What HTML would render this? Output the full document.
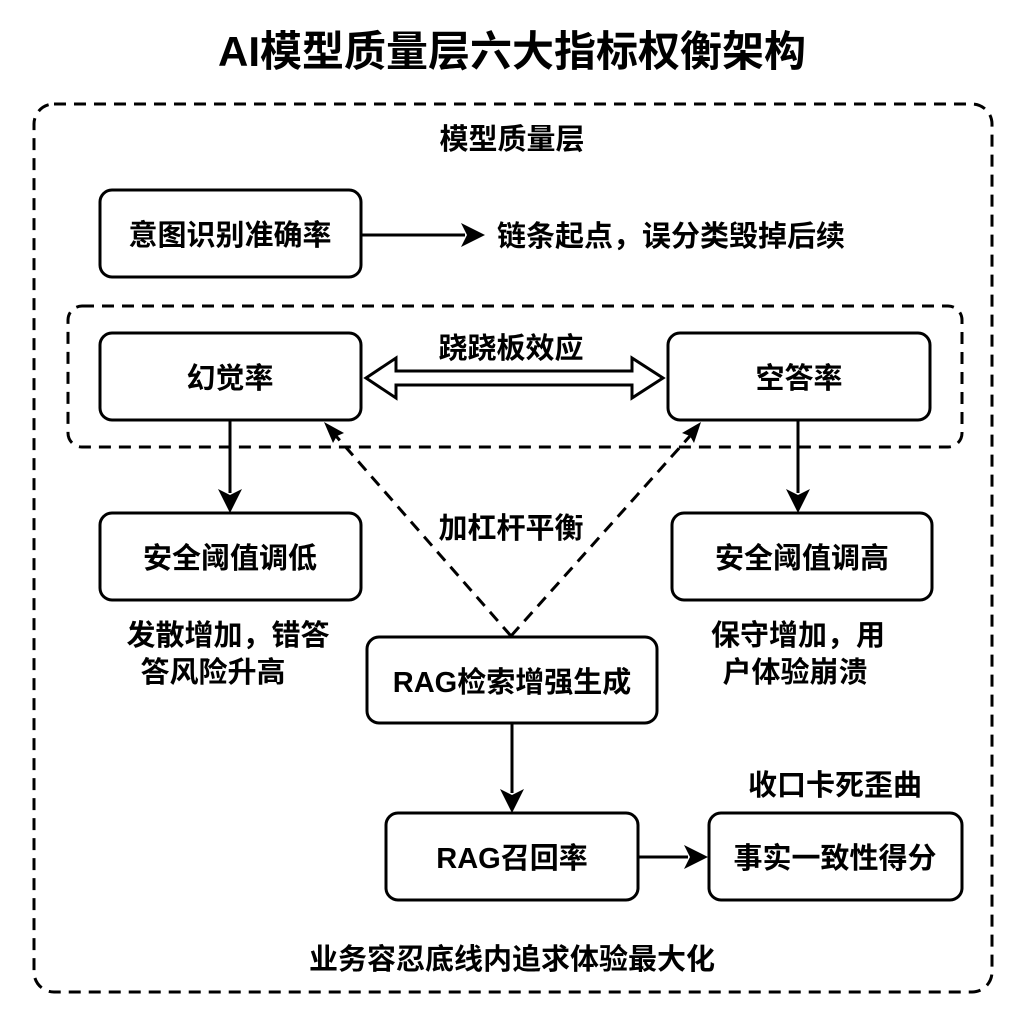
<!DOCTYPE html>
<html><head><meta charset="utf-8"><style>
html,body{margin:0;padding:0;background:#fff;}
svg text{font-family:"Liberation Sans","Noto Sans CJK SC",sans-serif;fill:#000;}
</style></head><body>
<svg width="1024" height="1024" viewBox="0 0 1024 1024" xmlns="http://www.w3.org/2000/svg">
<rect width="1024" height="1024" fill="#fff"/>
<text x="512" y="66" font-size="42" font-weight="bold" text-anchor="middle">AI模型质量层六大指标权衡架构</text>
<rect x="34" y="104" width="958" height="888" rx="20" fill="none" stroke="#000" stroke-width="3" stroke-dasharray="12 8"/>
<rect x="68" y="306" width="894" height="141" rx="14" fill="none" stroke="#000" stroke-width="3" stroke-dasharray="12 8"/>
<g fill="#fff" stroke="#000" stroke-width="3">
<rect x="100" y="190" width="261" height="87" rx="12"/>
<rect x="100" y="333" width="261" height="87" rx="12"/>
<rect x="668" y="333" width="262" height="87" rx="12"/>
<rect x="100" y="513" width="261" height="87" rx="12"/>
<rect x="672" y="513" width="260" height="87" rx="12"/>
<rect x="367" y="637" width="290" height="86" rx="12"/>
<rect x="386" y="813" width="252" height="87" rx="12"/>
<rect x="709" y="813" width="253" height="87" rx="12"/>
</g>
<g font-size="29" font-weight="bold" text-anchor="middle">
<text x="512" y="149">模型质量层</text>
<text x="230" y="245">意图识别准确率</text>
<text x="230" y="388">幻觉率</text>
<text x="799" y="388">空答率</text>
<text x="230" y="568">安全阈值调低</text>
<text x="802" y="568">安全阈值调高</text>
<text x="512" y="692">RAG检索增强生成</text>
<text x="512" y="868">RAG召回率</text>
<text x="835" y="868">事实一致性得分</text>
<text x="511" y="358">跷跷板效应</text>
<text x="511" y="538">加杠杆平衡</text>
<text x="228" y="645">发散增加，错答</text>
<text x="213" y="682">答风险升高</text>
<text x="798" y="645">保守增加，用</text>
<text x="795" y="682">户体验崩溃</text>
<text x="835" y="795">收口卡死歪曲</text>
<text x="512" y="969">业务容忍底线内追求体验最大化</text>
</g>
<text x="497" y="246" font-size="29" font-weight="bold">链条起点，误分类毁掉后续</text>
<g stroke="#000" stroke-width="3" fill="none">
<line x1="361" y1="235" x2="465" y2="235"/>
<line x1="230" y1="420" x2="230" y2="493"/>
<line x1="798" y1="420" x2="798" y2="493"/>
<line x1="512" y1="723" x2="512" y2="793"/>
<line x1="638" y1="857" x2="688" y2="857"/>
</g>
<g fill="#000">
<polygon points="485,235 461,223 467,235 461,247"/>
<polygon points="230,513 218,489 230,495 242,489"/>
<polygon points="798,513 786,489 798,495 810,489"/>
<polygon points="512,813 500,789 512,795 524,789"/>
<polygon points="708,857 684,845 690,857 684,869"/>
</g>
<polygon points="366,378 396,358 396,371 632,371 632,358 663,378 632,398 632,385 396,385 396,398" fill="#fff" stroke="#000" stroke-width="3"/>
<g stroke="#000" stroke-width="3" stroke-dasharray="12 8" fill="none">
<line x1="511" y1="636" x2="336" y2="436"/>
<line x1="511" y1="636" x2="690" y2="436"/>
</g>
<g fill="#000">
<polygon points="324,422 344,433 337,436 333,443"/>
<polygon points="701,422 694,443 690,436 682,433"/>
</g>
</svg>
</body></html>
